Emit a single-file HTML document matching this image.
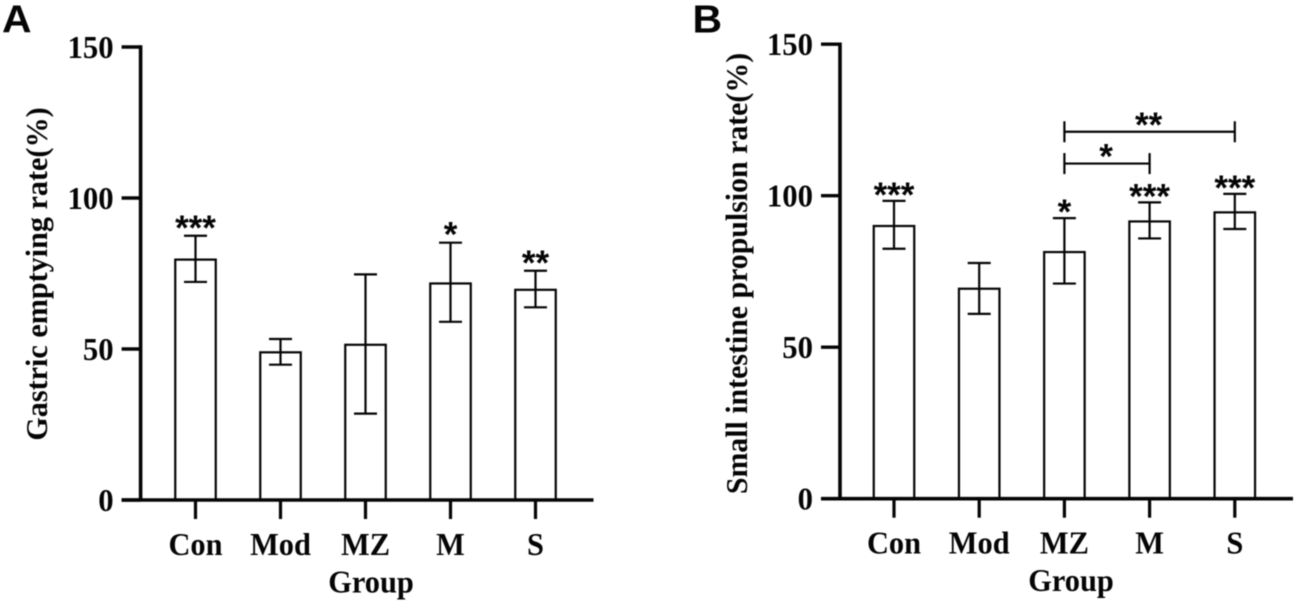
<!DOCTYPE html>
<html lang="en">
<head>
<meta charset="utf-8">
<title>Gastric emptying and small intestine propulsion rates</title>
<style>
html,body{margin:0;padding:0;background:#fff;width:1295px;height:605px;overflow:hidden}
svg{display:block;filter:blur(.4px)}
text{fill:#050505}
.serif{font-family:"Liberation Serif",serif;font-weight:700}
.sans{font-family:"Liberation Sans",sans-serif;font-weight:700}
</style>
</head>
<body>
<svg id="figure" xmlns="http://www.w3.org/2000/svg" width="1295" height="605" viewBox="0 0 1295 605">
<rect width="1295" height="605" fill="#fff"/>
<g id="panel-a"></g>
<g id="panel-b"></g>
</svg>
<script>
const categories = ['Con', 'Mod', 'MZ', 'M', 'S'];
const yTickLabels = [0, 50, 100, 150];

const gastricMeans = [79.6, 48.9, 51.4, 71.7, 69.6];
const gastricHigh = [87.5, 53.3, 74.7, 85.2, 75.9];
const gastricLow = [72.2, 44.8, 28.6, 59.0, 63.8];
const gastricStars = ['***', '', '', '*', '**'];

const intestineMeans = [90.0, 69.3, 81.4, 91.5, 94.5];
const intestineHigh = [98.3, 77.8, 92.6, 97.8, 100.6];
const intestineLow = [82.5, 61.0, 71.0, 85.9, 89.0];
const intestineStars = ['***', '', '*', '***', '***'];

const bracketFrom = [2, 2];
const bracketTo = [4, 3];
const bracketLevels = [121.1, 110.6];
const bracketStars = ['**', '*'];

const SVG_NS = 'http://www.w3.org/2000/svg';

function makeLine(parent, x1, y1, x2, y2, width) {
  const el = document.createElementNS(SVG_NS, 'line');
  el.setAttribute('x1', x1);
  el.setAttribute('y1', y1);
  el.setAttribute('x2', x2);
  el.setAttribute('y2', y2);
  el.setAttribute('stroke', '#050505');
  el.setAttribute('stroke-width', width);
  parent.appendChild(el);
  return el;
}

function makeText(parent, str, x, y, size, anchor, cls, sx, rot) {
  const el = document.createElementNS(SVG_NS, 'text');
  el.textContent = str;
  el.setAttribute('class', cls);
  el.setAttribute('font-size', size);
  el.setAttribute('text-anchor', anchor);
  el.setAttribute('transform', 'translate(' + x + ' ' + y + ') rotate(' + rot + ') scale(' + sx + ' 1)');
  parent.appendChild(el);
  return el;
}

function drawPanel(root, opts, means, high, low, stars) {
  const yScale = function (v) { return opts.y0 - v * opts.unit; };
  const xScale = function (i) { return opts.x0 + i * opts.step; };
  const barW = 40.5;
  const capHalf = 11.5;

  categories.forEach(function (cat, i) {
    const cx = xScale(i);

    const bar = document.createElementNS(SVG_NS, 'rect');
    bar.setAttribute('x', cx - barW / 2);
    bar.setAttribute('y', yScale(means[i]));
    bar.setAttribute('width', barW);
    bar.setAttribute('height', opts.y0 - yScale(means[i]));
    bar.setAttribute('fill', '#fff');
    bar.setAttribute('stroke', '#050505');
    bar.setAttribute('stroke-width', 2.2);
    
    
    root.appendChild(bar);

    const stem = makeLine(root, cx, yScale(high[i]), cx, yScale(low[i]), 2.2);
    
    

    const capTop = makeLine(root, cx - capHalf, yScale(high[i]), cx + capHalf, yScale(high[i]), 2.2);
    
    

    const capLow = makeLine(root, cx - capHalf, yScale(low[i]), cx + capHalf, yScale(low[i]), 2.2);
    
    

    if (stars[i]) {
      const star = makeText(root, stars[i], cx, yScale(high[i]) + opts.starDy, 35, 'middle', 'sans', 1, 0);
      
      
    }

    const tick = makeLine(root, cx, opts.y0, cx, opts.y0 + 19, 3.2);
    
    

    const label = makeText(root, cat, cx, opts.y0 + 55, 32, 'middle', 'serif', 0.95, 0);
    
    
  });

  yTickLabels.forEach(function (v) {
    const tick = makeLine(root, opts.axisX - 19, yScale(v), opts.axisX, yScale(v), 3.4);
    
    

    const label = makeText(root, String(v), opts.axisX - 27, yScale(v) + 11, 32, 'end', 'serif', 0.96, 0);
    
    
  });

  const yAxis = makeLine(root, opts.axisX, yScale(150) - 1.7, opts.axisX, opts.y0, 3.6);
  
  

  const xAxis = makeLine(root, opts.axisX - 19, opts.y0, opts.axisEnd, opts.y0, 3.6);
  
  

  const yTitle = makeText(root, opts.yTitle, opts.yTitleX, opts.yTitleY, 31, 'middle', 'serif', opts.yTitleScale, -90);
  
  

  const xTitle = makeText(root, 'Group', opts.xTitleX, opts.y0 + 92.5, 32, 'middle', 'serif', 0.95, 0);
  
  

  const panelLabel = makeText(root, opts.letter, opts.letterX, 32.7, 39, 'start', 'sans', 1.05, 0);
  
  

  return { xScale: xScale, yScale: yScale };
}

const panelA = document.getElementById('panel-a');
const panelB = document.getElementById('panel-b');

drawPanel(panelA, {
  x0: 195.5, step: 85, y0: 500, unit: 3.02, axisX: 140.6, axisEnd: 593.5, starDy: 4,
  yTitle: 'Gastric emptying rate(%)', yTitleX: 47, yTitleY: 274, yTitleScale: 0.973,
  xTitleX: 371, letter: 'A', letterX: 2
}, gastricMeans, gastricHigh, gastricLow, gastricStars);

const axesB = drawPanel(panelB, {
  x0: 894, step: 85.2, y0: 498.7, unit: 3.03, axisX: 840, axisEnd: 1293, starDy: 6,
  yTitle: 'Small intestine propulsion rate(%)', yTitleX: 747, yTitleY: 273.5, yTitleScale: 0.963,
  xTitleX: 1071, letter: 'B', letterX: 692.5
}, intestineMeans, intestineHigh, intestineLow, intestineStars);

bracketLevels.forEach(function (level, i) {
  const y = axesB.yScale(level);
  const x1 = axesB.xScale(bracketFrom[i]);
  const x2 = axesB.xScale(bracketTo[i]);

  const span = makeLine(panelB, x1, y, x2, y, 2.2);
  
  

  const endLeft = makeLine(panelB, x1, y - 10.5, x1, y + 10.5, 2.2);
  
  

  const endRight = makeLine(panelB, x2, y - 10.5, x2, y + 10.5, 2.2);
  
  

  const star = makeText(panelB, bracketStars[i], (x1 + x2) / 2 - 1, y + 5, 35, 'middle', 'sans', 1, 0);
  
  
});
</script>
</body>
</html>
